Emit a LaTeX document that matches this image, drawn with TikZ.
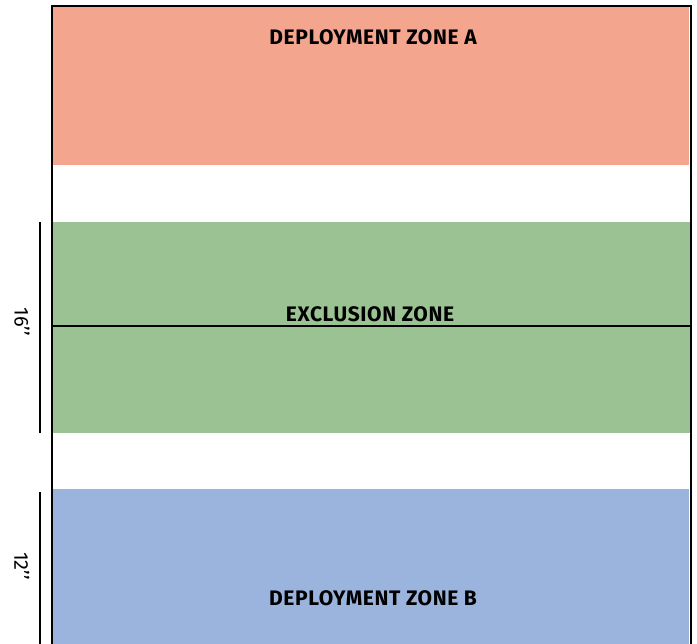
\documentclass[tikz,border=0pt]{standalone}
\usepackage{fontspec}
\setmainfont{Fira Sans}
\newfontfamily\zonefont[LetterSpace=3]{Fira Sans}
\definecolor{zonered}{RGB}{244,165,142}
\definecolor{zonegreen}{RGB}{155,194,146}
\definecolor{zoneblue}{RGB}{154,180,222}
\begin{document}
\begin{tikzpicture}[x=1pt,y=-1pt,
  zonelabel/.style={font=\zonefont\fontsize{21}{25}\selectfont\bfseries, inner sep=0pt},
  dimlabel/.style={font=\fontsize{20}{24}\selectfont, rotate=-90, inner sep=0pt},
  dimline/.style={line width=1.5pt},
  board/.style={line width=1.8pt}]
\useasboundingbox (0,0) rectangle (697,644);
% zones
\fill[zonered] (53,6) rectangle (689,165);
\fill[zonegreen] (53,222) rectangle (691,433);
\fill[zoneblue] (53,489) rectangle (689,644);
% centre line
\draw[line width=1.2pt] (52,326) -- (691,326);
% board edges
\draw[board] (52,648) -- (52,6) -- (691,6) -- (691,648);
% labels
\node[zonelabel] (za) at (373,37) {DEPLOYMENT ZONE A};
\node[zonelabel] (ex) at (370,314) {EXCLUSION ZONE};
\node[zonelabel] (zb) at (373,598) {DEPLOYMENT ZONE B};
% dimensions
\draw[dimline] (40,222) -- (40,433);
\node[dimlabel] (d16) at (22,322) {16’’};
\draw[dimline] (40,492) -- (40,648);
\node[dimlabel] (d12) at (22,566) {12’’};
\end{tikzpicture}
\end{document}
